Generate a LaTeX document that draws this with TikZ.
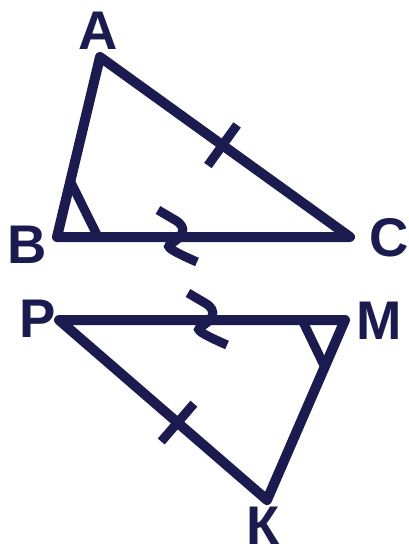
\documentclass[tikz,border=0pt]{standalone}
\usepackage{fontspec}
\setmainfont{Liberation Sans}
\usetikzlibrary{calc}
\definecolor{ink}{HTML}{1C1B4F}

\begin{document}
\begin{tikzpicture}[
  x=0.02cm, y=-0.02cm,
  side/.style={draw=ink, line width=5.7pt, line join=round, line cap=round},
  markline/.style={draw=ink, line width=5.2pt},
  lbl/.style={text=ink, font=\fontsize{31}{31}\selectfont\bfseries, inner sep=0pt}
]
  \useasboundingbox (0,0) rectangle (409,556);

  % first triangle
  \coordinate (A) at (100,57);
  \coordinate (B) at (57,237);
  \coordinate (C) at (350,237);
  % second triangle
  \coordinate (P) at (59,320);
  \coordinate (M) at (345,320);
  \coordinate (K) at (267,500);

  \draw[side] (A) -- (B) -- (C) -- cycle;
  \draw[side] (P) -- (M) -- (K) -- cycle;

  \node[lbl] (la) at (98,31) {A};
  \node[lbl] (lb) at (27,245) {B};
  \node[lbl] (lc) at (389,238) {C};
  \node[lbl] (lp) at (38,319) {P};
  \node[lbl] (lm) at (379,321) {M};
  \node[lbl] (lk) at (263,526) {К};

  % equal sides
  \coordinate (t1) at ($(A)!0.49!(C)$);
  \coordinate (t2) at ($(P)!0.57!(K)$);
  \draw[markline] ($(t1)!0.5cm!90:(C)$) -- ($(t1)!0.5cm!-90:(C)$);
  \draw[markline] ($(t2)!0.5cm!90:(K)$) -- ($(t2)!0.5cm!-90:(K)$);

  % equal angles
  \draw[markline] ($(B)!0.31!(A)$) -- ($(B)!0.14!(C)$);
  \draw[markline] ($(M)!0.15!(P)$) -- ($(M)!0.26!(K)$);

  % wavy marks
  \coordinate (wbc) at (180,237);
  \coordinate (wpm) at (210,320);
  \foreach \w in {wbc,wpm}
    \draw[markline, shift={(\w)}] (-22,-27) -- (-5,-17)
      .. controls (9,-9) and (2,1) .. (-10,7)
      .. controls (-14,10) and (-10,13) .. (17,25);
\end{tikzpicture}
\end{document}
